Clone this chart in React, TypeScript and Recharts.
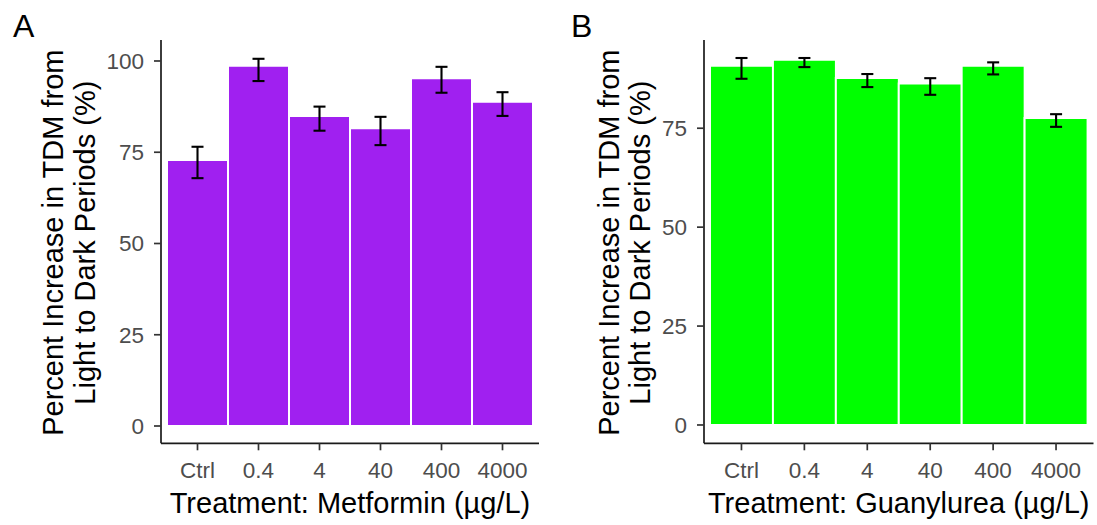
import { Bar, BarChart, ErrorBar, Label, XAxis, YAxis } from "recharts";

const FONT = "'Liberation Sans', Arial, sans-serif";

const doses = ["Ctrl", "0.4", "4", "40", "400", "4000"];

// panel A: metformin
const metforminMean = [72.9, 98.7, 84.9, 81.6, 95.3, 88.8];
const metforminErrLow = [5.0, 4.2, 4.0, 4.65, 4.0, 3.85];
const metforminErrHigh = [3.6, 1.9, 2.6, 3.1, 3.1, 2.65];
const metforminTicks = [0, 25, 50, 75, 100];

// panel B: guanylurea
const guanylureaMean = [90.8, 92.3, 87.7, 86.3, 90.8, 77.6];
const guanylureaErrLow = [3.3, 1.85, 2.3, 2.85, 2.2, 2.25];
const guanylureaErrHigh = [1.95, 0.45, 1.0, 1.35, 0.85, 0.95];
const guanylureaTicks = [0, 25, 50, 75];

const buildRows = (mean: number[], low: number[], high: number[]) =>
  doses.map((dose, i) => ({ dose, mean: mean[i], err: [low[i], high[i]] }));

interface PanelProps {
  tag: string;
  tagX: number;
  left: number;
  width: number;
  marginLeft: number;
  marginRight: number;
  color: string;
  rows: { dose: string; mean: number; err: number[] }[];
  ticks: number[];
  domain: [number, number];
  xTitle: string;
  titleOffset: number;
}

const Panel: React.FC<PanelProps> = ({
  tag,
  tagX,
  left,
  width,
  marginLeft,
  marginRight,
  color,
  rows,
  ticks,
  domain,
  xTitle,
  titleOffset,
}) => {
  const renderYTitle = (props: any) => {
    const vb = props.viewBox ?? { x: 0, y: 0, width: 0, height: 0 };
    const axisX = vb.x + vb.width;
    const cy = vb.y + vb.height / 2 + 1;
    const x1 = axisX - titleOffset;
    return (
      <g>
        <text x={tagX} y={37} fontSize={32} fontFamily={FONT} fill="#000">
          {tag}
        </text>
        <text
          transform={`rotate(-90 ${x1} ${cy})`}
          x={x1}
          y={cy}
          textAnchor="middle"
          fontSize={29}
          fontFamily={FONT}
          fill="#000"
        >
          <tspan x={x1} dy={0}>
            Percent Increase in TDM from
          </tspan>
          <tspan x={x1} dy={31.5}>
            Light to Dark Periods (%)
          </tspan>
        </text>
      </g>
    );
  };

  const renderXTitle = (props: any) => {
    const vb = props.viewBox ?? { x: 0, y: 0, width: 0, height: 0 };
    return (
      <text
        x={vb.x + vb.width / 2}
        y={vb.y + 69.7}
        textAnchor="middle"
        fontSize={29}
        fontFamily={FONT}
        fill="#000"
      >
        {xTitle}
      </text>
    );
  };

  return (
    <div style={{ position: "absolute", left, top: 0 }}>
      <BarChart
        width={width}
        height={525}
        data={rows}
        margin={{ top: 40, right: marginRight, bottom: 11.7, left: marginLeft }}
        barCategoryGap={0}
      >
        <XAxis
          dataKey="dose"
          type="category"
          interval={0}
          height={70}
          padding={{ left: 6, right: 6 }}
          tickSize={7}
          tickMargin={12}
          tick={{ fill: "#4D4D4D", fontSize: 22.5, fontFamily: FONT }}
          axisLine={{ stroke: "#1a1a1a", strokeWidth: 1.7 }}
          tickLine={{ stroke: "#333333", strokeWidth: 1.7 }}
        >
          <Label content={renderXTitle} />
        </XAxis>
        <YAxis
          type="number"
          width={60}
          domain={domain}
          ticks={ticks}
          allowDataOverflow={true}
          tickSize={7}
          tickMargin={10}
          tick={{ fill: "#4D4D4D", fontSize: 22.5, fontFamily: FONT }}
          axisLine={{ stroke: "#1a1a1a", strokeWidth: 1.7 }}
          tickLine={{ stroke: "#333333", strokeWidth: 1.7 }}
        >
          <Label content={renderYTitle} />
        </YAxis>
        <Bar
          dataKey="mean"
          fill={color}
          stroke="#ffffff"
          strokeWidth={2}
          isAnimationActive={false}
        >
          <ErrorBar
            dataKey="err"
            direction="y"
            width={6}
            stroke="#000000"
            strokeWidth={2.1}
          />
        </Bar>
      </BarChart>
    </div>
  );
};

export default function App() {
  return (
    <div
      style={{
        position: "absolute",
        left: 0,
        top: 0,
        width: 1097,
        height: 525,
        background: "#ffffff",
      }}
    >
      <Panel
        tag="A"
        tagX={13}
        left={0}
        width={548}
        marginLeft={101}
        marginRight={9}
        color="#A020F0"
        rows={buildRows(metforminMean, metforminErrLow, metforminErrHigh)}
        ticks={metforminTicks}
        domain={[-4.74, 105.75]}
        xTitle="Treatment: Metformin (µg/L)"
        titleOffset={97.5}
      />
      <Panel
        tag="B"
        tagX={23}
        left={548}
        width={549}
        marginLeft={96}
        marginRight={3.5}
        color="#00FF00"
        rows={buildRows(guanylureaMean, guanylureaErrLow, guanylureaErrHigh)}
        ticks={guanylureaTicks}
        domain={[-4.63, 97.3]}
        xTitle="Treatment: Guanylurea (µg/L)"
        titleOffset={85.3}
      />
    </div>
  );
}
